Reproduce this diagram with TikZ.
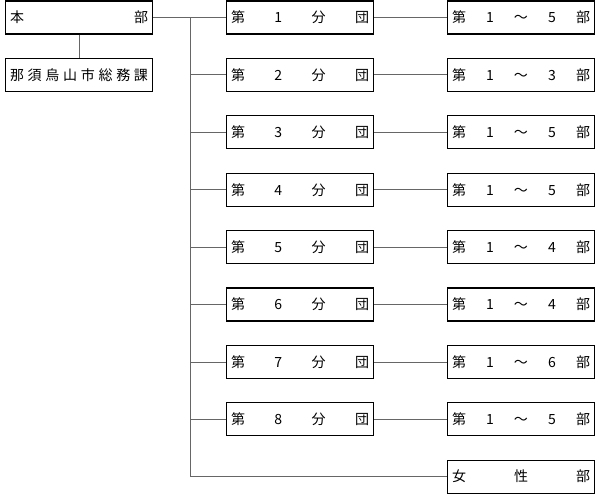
\documentclass[tikz,border=0pt]{standalone}
\usepackage{fontspec}
\setmainfont{Noto Sans CJK JP}
\begin{document}
\begin{tikzpicture}[x=1pt,y=-1pt,
  orgbox/.style={draw=black,line width=1.2pt,minimum width=147pt,minimum height=33pt,
    inner xsep=0pt,text width=138pt,font=\fontsize{14pt}{15pt}\selectfont,anchor=center},
  link/.style={draw=black!60,line width=0.8pt}]
\useasboundingbox (0,0) rectangle (600,495);
\node[orgbox] (honbu) at (79,17.5) {本\hfill 部};
\node[orgbox] (somu) at (79,74.9) {那\hfill 須\hfill 烏\hfill 山\hfill 市\hfill 総\hfill 務\hfill 課};
\coordinate (trunktop) at (190,17.5);
\foreach \i/\b in {1/5,2/3,3/5,4/5,5/4,6/4,7/6,8/5}{
  \pgfmathsetmacro\yy{17.5+57.4*(\i-1)}
  \node[orgbox] (bun\i) at (300,\yy) {第\hfill \i\hfill 分\hfill 団};
  \node[orgbox] (bu\i) at (521,\yy) {第\hfill 1\hfill ～\hfill \b\hfill 部};
  \coordinate (tr\i) at (190,\yy);
  \draw[link] (bun\i.east) -- (bu\i.west);
  \draw[link] (tr\i) -- (bun\i.west);
}
\pgfmathsetmacro\yy{17.5+57.4*8}
\node[orgbox] (josei) at (521,\yy) {女\hfill 性\hfill 部};
\coordinate (trbot) at (190,\yy);
\draw[link] (honbu) -- (somu);
\draw[link] (honbu.east) -- (trunktop) -- (trbot) -- (josei.west);
\end{tikzpicture}
\end{document}
